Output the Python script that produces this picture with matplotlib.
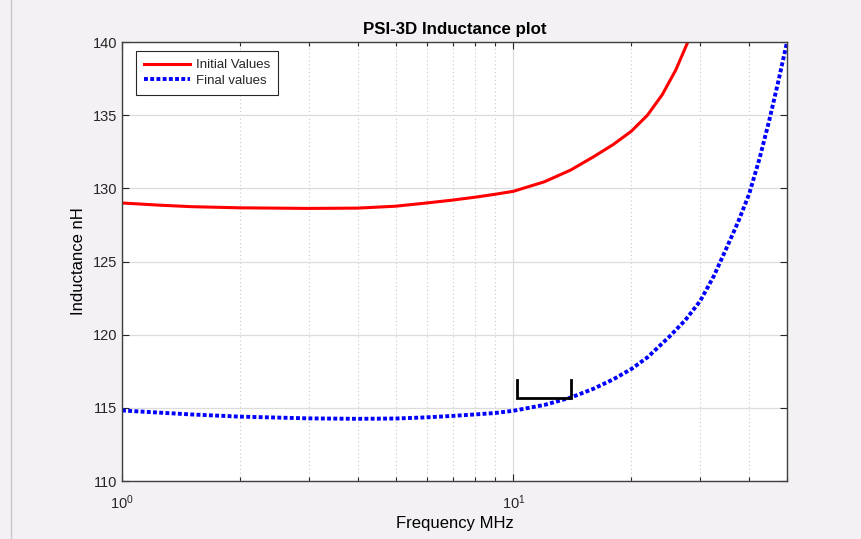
import matplotlib.pyplot as plt
from matplotlib.lines import Line2D
from matplotlib.ticker import LogLocator, FixedLocator, NullFormatter

# =====================================================
# DATA
# =====================================================
FREQ_INIT = [1, 1.25, 1.5, 2, 3, 4, 5, 6, 7, 8, 9, 10, 12, 14, 16, 18, 20,
             22, 24, 26, 28, 30]
L_INIT = [129.0, 128.85, 128.75, 128.67, 128.63, 128.65, 128.78, 129.0, 129.2,
          129.4, 129.6, 129.8, 130.45, 131.25, 132.15, 133.0, 133.9,
          135.0, 136.4, 138.1, 140.1, 142.0]

FREQ_FINAL = [1, 1.5, 2, 3, 4, 5, 6, 7, 8, 9, 10, 12, 14, 16, 18, 20, 22, 25,
              27.5, 30, 32.5, 35, 37.5, 40, 42.5, 45, 47.5, 50]
L_FINAL = [114.82, 114.55, 114.4, 114.28, 114.25, 114.27, 114.35, 114.45, 114.55,
           114.65, 114.8, 115.2, 115.7, 116.3, 116.95, 117.65, 118.45, 119.85,
           121.0, 122.3, 124.0, 125.9, 127.7, 129.6, 132.0, 134.6, 137.3, 140.0]

BRACKET_X = [10.2, 10.2, 14.06, 14.06]
BRACKET_Y = [116.9, 115.7, 115.7, 116.9]

Y_TICKS = [110, 115, 120, 125, 130, 135, 140]

# =====================================================
# STYLE
# =====================================================
plt.rcParams.update({
    "font.family": ["Liberation Sans", "DejaVu Sans"],
    "font.size": 10,
    "axes.edgecolor": "#262626",
    "xtick.color": "#262626",
    "ytick.color": "#262626",
    "text.color": "#262626",
})

BG = "#f4f1f4"

fig = plt.figure(figsize=(8.62, 5.39), dpi=100, facecolor=BG)
ax = fig.add_axes([0.1415, 0.1076, 0.7715, 0.8144])
ax.set_facecolor("white")

ax.plot(FREQ_INIT, L_INIT, color="#ff0000", linewidth=2.2, label="Initial Values")
ax.plot(FREQ_FINAL, L_FINAL, color="#0000ff", linestyle=(0, (1, 0.6)),
        linewidth=2.8, label="Final values")

# bracket marker
ax.plot(BRACKET_X, BRACKET_Y, color="black", linewidth=2, solid_joinstyle="miter")

ax.set_xscale("log")
ax.set_xlim(1, 50)
ax.set_ylim(110, 140)
ax.yaxis.set_major_locator(FixedLocator(Y_TICKS))
ax.xaxis.set_major_locator(LogLocator(base=10))
ax.xaxis.set_minor_locator(LogLocator(base=10, subs=range(2, 10)))
ax.xaxis.set_minor_formatter(NullFormatter())

ax.tick_params(which="both", direction="in", top=True, right=True, labelsize=10.5)
ax.tick_params(which="major", length=5, width=0.8)
ax.tick_params(which="minor", length=3, width=0.8)
ax.tick_params(axis="x", which="major", pad=9)

ax.grid(True, which="major", color="#dcdcdc", linewidth=0.9, linestyle="-")
ax.grid(True, which="minor", axis="x", color="#c8c8c8", linewidth=0.8, linestyle=(0, (1, 2.5)))
ax.set_axisbelow(True)

for s in ax.spines.values():
    s.set_linewidth(1.0)
    s.set_color("#404040")

ax.set_title("PSI-3D Inductance plot", fontsize=12.2, fontweight="bold", pad=6, color="black")
ax.set_xlabel("Frequency MHz", fontsize=12, labelpad=3)
ax.set_ylabel("Inductance nH", fontsize=12, labelpad=5)

leg = ax.legend(loc="upper left", fontsize=9.5, fancybox=False, framealpha=1,
                edgecolor="#262626", handlelength=3.5, handletextpad=0.45,
                borderpad=0.6, labelspacing=0.25, borderaxespad=0,
                bbox_to_anchor=(0.021, 0.979))
leg.get_frame().set_linewidth(0.8)

# screenshot border on the left
fig.add_artist(Line2D([11 / 862, 11 / 862], [0, 1], color="#c8c8c8", linewidth=1))

fig.savefig("out.png", dpi=100, facecolor=BG)
